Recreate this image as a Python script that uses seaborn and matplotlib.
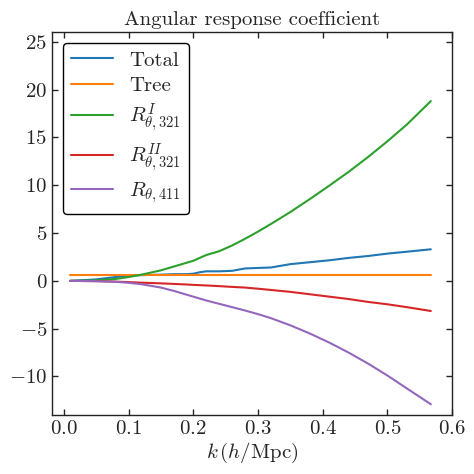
import pandas as pd
import matplotlib
matplotlib.use("Agg")
import matplotlib.pyplot as plt
import seaborn as sns

sns.set_style("ticks")
plt.rcParams.update({
    "font.family": "serif",
    "font.serif": ["cmr10", "DejaVu Serif"],
    "mathtext.fontset": "cm",
    "axes.formatter.use_mathtext": True,
    "font.size": 15,
    "xtick.direction": "in",
    "ytick.direction": "in",
    "xtick.top": True,
    "ytick.right": True,
    "axes.edgecolor": "#222222",
    "axes.linewidth": 1.0,
})

# wavenumber grid (h/Mpc)
k = [0.01, 0.05, 0.08, 0.10, 0.12, 0.15, 0.17, 0.19, 0.20, 0.21, 0.22, 0.24,
     0.26, 0.28, 0.30, 0.32, 0.35, 0.38, 0.41, 0.44, 0.47, 0.50, 0.53, 0.567]

total = [0.0, 0.15, 0.4, 0.55, 0.6, 0.65, 0.7, 0.7, 0.75, 0.9, 1.0, 1.0,
         1.05, 1.3, 1.35, 1.4, 1.75, 1.95, 2.15, 2.4, 2.6, 2.85, 3.05, 3.3]
tree = [0.6] * len(k)
r_321_I = [0.0, 0.05, 0.2, 0.4, 0.65, 1.1, 1.5, 1.9, 2.1, 2.4, 2.7, 3.1,
           3.7, 4.4, 5.15, 5.95, 7.2, 8.55, 9.95, 11.4, 12.95, 14.6, 16.35, 18.8]
r_321_II = [0.0, -0.03, -0.08, -0.13, -0.19, -0.26, -0.32, -0.38, -0.42, -0.45, -0.48, -0.55,
            -0.63, -0.7, -0.82, -0.95, -1.15, -1.4, -1.65, -1.9, -2.2, -2.45, -2.75, -3.15]
r_411 = [0.0, -0.03, -0.1, -0.2, -0.35, -0.7, -1.05, -1.45, -1.65, -1.85, -2.05, -2.4,
         -2.75, -3.1, -3.48, -3.9, -4.65, -5.5, -6.45, -7.5, -8.65, -9.9, -11.25, -12.9]

labels = ["Total", "Tree", r"$R^{I}_{\theta,321}$", r"$R^{II}_{\theta,321}$", r"$R_{\theta,411}$"]
series = [total, tree, r_321_I, r_321_II, r_411]

df = pd.concat(
    [pd.DataFrame({"k": k, "R": vals, "curve": lab}) for lab, vals in zip(labels, series)],
    ignore_index=True,
)

fig = plt.figure(figsize=(4.74, 4.74), dpi=100)
ax = fig.add_axes([0.11, 0.125, 0.844, 0.807])

sns.lineplot(data=df, x="k", y="R", hue="curve", hue_order=labels,
             palette=sns.color_palette("tab10", 5), linewidth=1.5, ax=ax)

ax.set_xlim(-0.018, 0.6)
ax.set_ylim(-14, 26)
ax.set_xticks([0.0, 0.1, 0.2, 0.3, 0.4, 0.5, 0.6])
ax.set_yticks([-10, -5, 0, 5, 10, 15, 20, 25])
ax.set_xlabel(r"$k\,(h/\mathrm{Mpc})$", labelpad=2)
ax.set_ylabel("")
ax.set_title("Angular response coefficient", fontsize=15, pad=5)
ax.tick_params(length=4, width=1)

handles, labs = ax.get_legend_handles_labels()
leg = ax.legend(handles, labs, loc="upper left", frameon=True, fancybox=True,
                edgecolor="black", framealpha=1, fontsize=15, labelspacing=0.32)
leg.get_frame().set_linewidth(1.0)

fig.savefig("out.png", dpi=100)
